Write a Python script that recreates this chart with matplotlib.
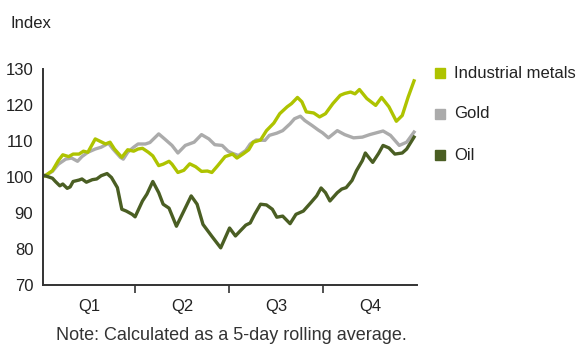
import matplotlib
matplotlib.use("Agg")
import matplotlib.pyplot as plt
from matplotlib.patches import Rectangle

plt.rcParams['font.family'] = ['Liberation Sans', 'DejaVu Sans']

# ---- data (trading day of year, index value) ----
metals_days = [0, 5, 9, 12, 16, 19, 23, 26, 29, 34, 37, 41, 44, 47, 52, 56, 60, 63, 66, 70,
               73, 77, 80, 84, 86, 90, 94, 98, 102, 106, 110, 113, 117, 122, 127, 130, 134, 138,
               141, 146, 150, 155, 159, 164, 167, 171, 174, 177, 182, 186, 190, 195, 200, 203,
               207, 210, 213, 218, 224, 228, 233, 238, 242, 246, 250]
metals_vals = [100.3, 101.7, 104.5, 106.1, 105.6, 106.3, 106.3, 107.1, 106.8, 110.5, 109.9,
               109.1, 109.6, 107.7, 105.4, 107.5, 107.1, 107.7, 107.9, 106.8, 105.8, 103.1,
               103.5, 104.3, 103.5, 101.2, 101.8, 103.6, 102.8, 101.5, 101.6, 101.2, 103.1,
               105.6, 106.3, 105.2, 106.3, 107.5, 109.6, 110.2, 112.8, 114.9, 117.5, 119.4,
               120.3, 122.0, 120.8, 118.0, 117.7, 116.6, 117.5, 120.3, 122.6, 123.1, 123.5,
               123.0, 124.2, 121.7, 119.8, 122.0, 119.4, 115.4, 117.0, 122.1, 126.6]

gold_days = [0, 5, 9, 14, 18, 22, 25, 29, 34, 38, 43, 46, 51, 53, 56, 60, 63, 68, 71, 77,
             81, 86, 90, 95, 101, 106, 111, 115, 120, 124, 127, 131, 136, 139, 143, 149, 152,
             157, 161, 166, 169, 173, 176, 181, 185, 188, 192, 198, 203, 209, 215, 220, 229,
             234, 240, 245, 250]
gold_vals = [100.3, 101.5, 103.5, 104.9, 105.2, 104.3, 105.6, 106.8, 107.7, 108.2, 109.3,
             107.7, 105.4, 104.9, 106.8, 108.2, 109.1, 109.1, 109.5, 111.9, 110.5, 108.7,
             106.6, 108.7, 109.6, 111.7, 110.5, 108.9, 108.7, 107.1, 106.5, 105.9, 107.3,
             109.1, 110.2, 110.1, 111.5, 112.1, 112.8, 114.7, 116.1, 116.8, 115.6, 114.2,
             113.0, 112.2, 110.8, 112.8, 111.7, 110.8, 111.0, 111.7, 112.7, 111.5, 108.7,
             109.6, 112.4]

oil_days = [0, 5, 7, 10, 12, 15, 17, 19, 23, 25, 28, 32, 35, 38, 42, 45, 49, 52, 55, 59, 61,
            66, 69, 73, 77, 80, 84, 89, 94, 99, 103, 107, 113, 119, 125, 129, 132, 136, 139,
            142, 146, 150, 154, 157, 161, 166, 170, 175, 180, 184, 187, 190, 193, 198, 201,
            204, 208, 211, 215, 217, 220, 222, 226, 229, 233, 237, 242, 245, 250]
oil_vals = [100.3, 99.6, 98.7, 97.5, 98.0, 96.8, 97.2, 98.7, 99.1, 99.4, 98.5, 99.2, 99.4,
            100.3, 100.9, 99.8, 97.0, 91.0, 90.5, 89.6, 88.9, 93.3, 95.2, 98.7, 95.6, 92.4,
            91.3, 86.3, 90.5, 94.7, 92.4, 86.8, 83.5, 80.3, 85.8, 83.6, 84.9, 86.6, 87.2,
            89.6, 92.4, 92.2, 91.0, 88.8, 89.1, 87.0, 89.6, 90.5, 92.8, 94.7, 96.9, 95.6,
            93.3, 95.6, 96.6, 97.0, 99.0, 101.7, 104.5, 106.6, 105.0, 104.0, 106.5, 108.7,
            108.0, 106.3, 106.6, 107.7, 111.0]

quarter_labels = ["Q1", "Q2", "Q3", "Q4"]
quarter_bounds = [-1.4, 61.2, 124.8, 188.4, 252.0]
series_names = ["Industrial metals", "Gold", "Oil"]
colors = {"Industrial metals": "#AEC300", "Gold": "#ABABAB", "Oil": "#4A5E23"}

fig = plt.figure(figsize=(5.8, 3.45), dpi=100)
ax = fig.add_axes([43 / 580, 1 - 285 / 345, (417 - 43) / 580, (285 - 68.6) / 345])

lw = 2.4
ax.plot(gold_days, gold_vals, color=colors["Gold"], lw=lw, solid_joinstyle='round')
ax.plot(metals_days, metals_vals, color=colors["Industrial metals"], lw=lw, solid_joinstyle='round')
ax.plot(oil_days, oil_vals, color=colors["Oil"], lw=lw, solid_joinstyle='round')

ax.set_xlim(quarter_bounds[0], quarter_bounds[-1])
ax.set_ylim(70, 130)
ax.set_yticks([70, 80, 90, 100, 110, 120, 130])
ax.tick_params(axis='y', length=0, labelsize=12, pad=7, colors='#222222')
ax.set_xticks(quarter_bounds[1:-1])
ax.set_xticklabels([])
ax.tick_params(axis='x', which='major', length=6, width=1.2, color='#333333', direction='out')
mids = [(quarter_bounds[i] + quarter_bounds[i + 1]) / 2 for i in range(4)]
ax.set_xticks(mids, minor=True)
ax.set_xticklabels(quarter_labels, minor=True)
ax.tick_params(axis='x', which='minor', length=0, labelsize=12, pad=10, colors='#222222')

for s in ['top', 'right']:
    ax.spines[s].set_visible(False)
for s in ['left', 'bottom']:
    ax.spines[s].set_color('#333333')
    ax.spines[s].set_linewidth(1.4)

fig.text(10 / 580, 1 - 23 / 345, "Index", fontsize=12, va='center', ha='left', color='#222222')

# legend
leg_y = [73, 114, 155]
for name, yy in zip(series_names, leg_y):
    fig.patches.append(Rectangle((435 / 580, 1 - (yy + 5) / 345), 10 / 580, 10 / 345,
                                 transform=fig.transFigure, color=colors[name], figure=fig))
    fig.text(454 / 580, 1 - yy / 345, name, fontsize=12, va='center', ha='left', color='#222222')

fig.text(231 / 580, 1 - 336 / 345, "Note: Calculated as a 5-day rolling average.",
         fontsize=13, ha='center', va='center', color='#333333')

fig.savefig("out.png", dpi=100)
